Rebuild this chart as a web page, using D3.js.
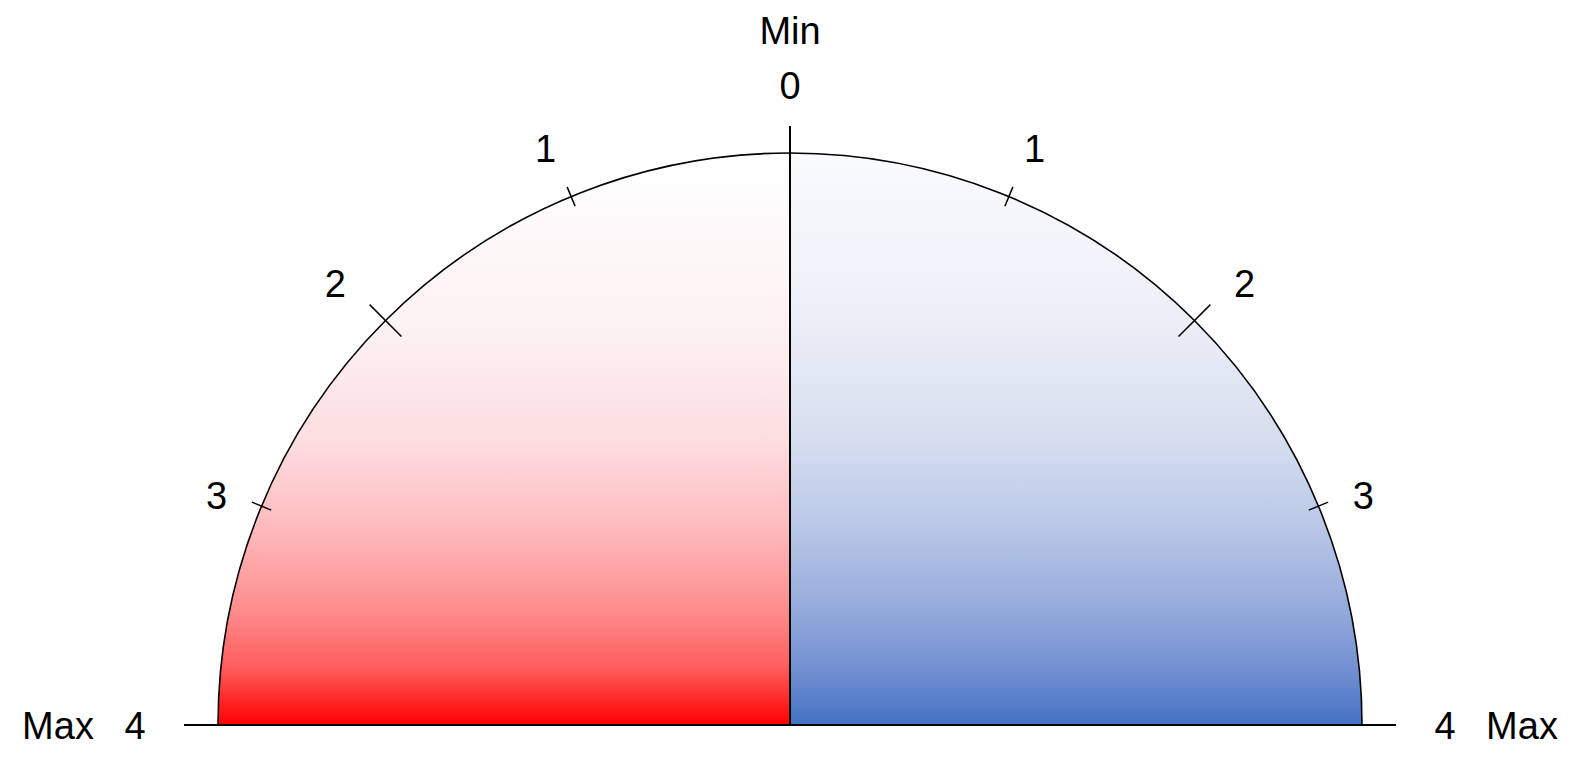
<!DOCTYPE html>
<html>
<head>
<meta charset="utf-8">
<script src="https://cdn.jsdelivr.net/npm/d3@7/dist/d3.min.js"></script>
<style>
  html, body { margin: 0; padding: 0; background: #fff; }
  svg { display: block; }
  text { font-family: "Liberation Sans", Arial, Helvetica, sans-serif; font-size: 38px; fill: #000; }
</style>
</head>
<body>
<script>
// ---- data ----
const tickValues = [0, 1, 2, 3, 4];
const domain = [0, 4];
const sides = ["left", "right"];
const endLabels = ["Min", "Max"];
const gradientStops = {
  left:  [[0, "#ffffff"], [0.3, "#fcf2f3"], [0.5, "#fcdee1"], [0.65, "#fdbcbf"], [0.8, "#fe8c8c"], [0.9, "#ff5c5c"], [1, "#ff0000"]],
  right: [[0, "#fafbfd"], [0.3, "#eaeef7"], [0.5, "#d6deef"], [0.65, "#bac8e7"], [0.8, "#94aadb"], [0.9, "#7390d0"], [1, "#4472c4"]]
};

// ---- layout / style ----
const W = 1587, H = 757;
const cx = 790, cy = 725, r = 572;
const axisExtV = 27, axisExtH = 34;
const tickHalfMinor = 10.5, tickHalfMajor = 22.5;
// label nudges (outward-x, y) per tick value, purely presentational
const labelNudge = { 1: [5, 2], 2: [12, 1], 3: [-5, 10] };

const svg = d3.select("body").append("svg").attr("width", W).attr("height", H);
const defs = svg.append("defs");

sides.forEach(s => {
  const g = defs.append("linearGradient")
    .attr("id", "grad-" + s)
    .attr("gradientUnits", "userSpaceOnUse")
    .attr("x1", 0).attr("x2", 0)
    .attr("y1", -r).attr("y2", 0);
  gradientStops[s].forEach(([o, c]) => g.append("stop").attr("offset", o).attr("stop-color", c));
});

// value -> angle from vertical (0 at top, pi/2 at horizontal)
const ang = d3.scaleLinear().domain(domain).range([0, Math.PI / 2]);
const midValue = (domain[0] + domain[1]) / 2;

const root = svg.append("g").attr("transform", `translate(${cx},${cy})`);

const arc = d3.arc().innerRadius(0).outerRadius(r);
const sideAngles = { left: [-Math.PI / 2, 0], right: [0, Math.PI / 2] };

root.selectAll("path.quarter").data(sides).join("path")
  .attr("class", "quarter")
  .attr("d", s => arc({ startAngle: sideAngles[s][0], endAngle: sideAngles[s][1] }))
  .attr("fill", s => `url(#grad-${s})`)
  .attr("stroke", "none");

// outline arc
root.append("path")
  .attr("d", d3.arc().innerRadius(r).outerRadius(r)({ startAngle: -Math.PI / 2, endAngle: Math.PI / 2 }))
  .attr("fill", "none").attr("stroke", "#000").attr("stroke-width", 1.6);

// axis lines
root.append("line")
  .attr("x1", 0).attr("y1", 0).attr("x2", 0).attr("y2", -(r + axisExtV))
  .attr("stroke", "#000").attr("stroke-width", 2);
root.append("line")
  .attr("x1", -(r + axisExtH)).attr("y1", 0).attr("x2", r + axisExtH).attr("y2", 0)
  .attr("stroke", "#000").attr("stroke-width", 2);

// ticks & labels on both sides
const dir = { left: -1, right: 1 };
const innerTicks = tickValues.filter(v => v > domain[0] && v < domain[1]);

sides.forEach(s => {
  const sg = dir[s];
  const th = v => (v === midValue ? tickHalfMajor : tickHalfMinor);
  root.selectAll(null).data(innerTicks).join("line")
    .attr("x1", v => sg * Math.sin(ang(v)) * (r - th(v)))
    .attr("y1", v => -Math.cos(ang(v)) * (r - th(v)))
    .attr("x2", v => sg * Math.sin(ang(v)) * (r + th(v)))
    .attr("y2", v => -Math.cos(ang(v)) * (r + th(v)))
    .attr("stroke", "#000").attr("stroke-width", 1.5);

  const labelTicks = tickValues.filter(v => v > domain[0]);
  const lr = v => r + (v === domain[1] ? 83 : 54);
  const nd = v => labelNudge[v] || [0, 0];
  root.selectAll(null).data(labelTicks).join("text")
    .attr("text-anchor", "middle")
    .attr("dy", "0.36em")
    .attr("x", v => sg * (Math.sin(ang(v)) * lr(v) + nd(v)[0]))
    .attr("y", v => -Math.cos(ang(v)) * lr(v) + nd(v)[1])
    .text(v => v);

  // Max label at horizontal end
  root.append("text")
    .attr("text-anchor", "middle").attr("dy", "0.36em")
    .attr("x", sg * (r + 160)).attr("y", 0)
    .text(endLabels[1]);
});

// top label 0 and Min
root.append("text")
  .attr("text-anchor", "middle").attr("dy", "0.36em")
  .attr("x", 0).attr("y", -(r + 68))
  .text(tickValues[0]);
root.append("text")
  .attr("text-anchor", "middle").attr("dy", "0.36em")
  .attr("x", 0).attr("y", -(r + 123))
  .text(endLabels[0]);
</script>
</body>
</html>
